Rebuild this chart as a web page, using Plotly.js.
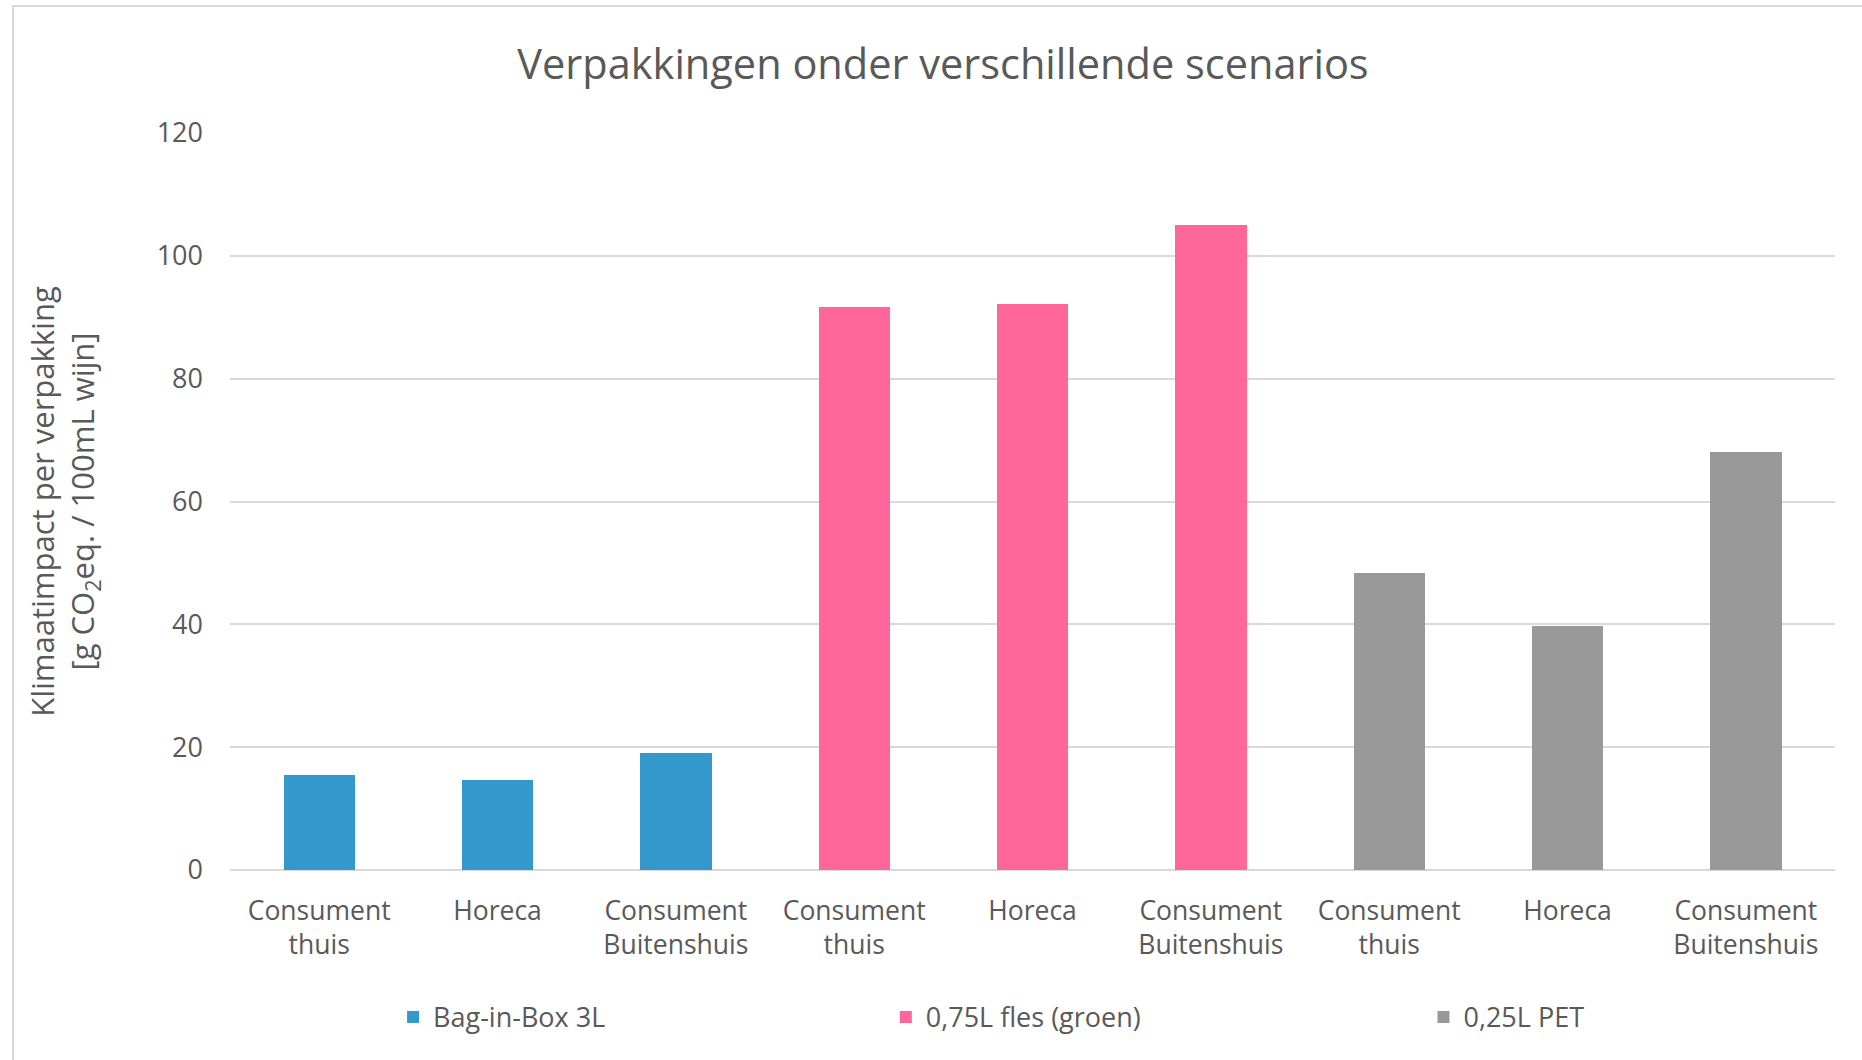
<!DOCTYPE html>
<html>
<head>
<meta charset="utf-8">
<script src="https://cdn.plot.ly/plotly-3.0.1.min.js"></script>
<style>
  html, body { margin: 0; padding: 0; background: #ffffff; overflow: hidden; }
  #frame { position: absolute; left: 12px; top: 5px; width: 1900px; height: 1100px; border: 2px solid #d9d9d9; box-sizing: border-box; }
  #chart { position: absolute; left: 0; top: 0; width: 1862px; height: 1060px; }
</style>
</head>
<body>
<div id="frame"></div>
<div id="chart"></div>
<script>
// Data
const tickLabels = ["Consument<br>thuis", "Horeca", "Consument<br>Buitenshuis",
                    "Consument<br>thuis", "Horeca", "Consument<br>Buitenshuis",
                    "Consument<br>thuis", "Horeca", "Consument<br>Buitenshuis"];
const seriesNames = ["Bag-in-Box 3L", "0,75L fles (groen)", "0,25L PET"];
const bagInBoxPos = [0, 1, 2];
const bagInBoxValues = [15.5, 14.7, 19.0];
const flesPos = [3, 4, 5];
const flesValues = [91.6, 92.1, 105.1];
const petPos = [6, 7, 8];
const petValues = [48.4, 39.8, 68.0];
const colors = ["#3399cc", "#ff6699", "#999999"];

const font = "'Open Sans', 'Noto Sans', sans-serif";
const textColor = "#595959";

function barTrace(x, y, name, color, legendId) {
  return {
    type: "bar", x: x, y: y, name: name, width: 0.4,
    marker: { color: color, line: { width: 0 } },
    legend: legendId,
    hoverinfo: "y+name"
  };
}

const data = [
  barTrace(bagInBoxPos, bagInBoxValues, seriesNames[0], colors[0], "legend"),
  barTrace(flesPos, flesValues, seriesNames[1], colors[1], "legend2"),
  barTrace(petPos, petValues, seriesNames[2], colors[2], "legend3")
];

function legendAt(x) {
  return {
    orientation: "h",
    x: x, xanchor: "left",
    y: -0.2, yanchor: "middle",
    font: { family: font, size: 27, color: textColor },
    itemwidth: 30,
    bgcolor: "rgba(0,0,0,0)"
  };
}

const layout = {
  width: 1862, height: 1060,
  paper_bgcolor: "rgba(0,0,0,0)", plot_bgcolor: "rgba(0,0,0,0)",
  margin: { l: 230, r: 27, t: 133, b: 190 },
  font: { family: font, color: textColor, size: 26 },
  title: {
    text: "Verpakkingen onder verschillende scenarios",
    font: { family: font, size: 41.5, color: textColor },
    x: 943 / 1862, xanchor: "center", y: 1 - 64 / 1060, yanchor: "middle", yref: "container"
  },
  barmode: "overlay",
  bargap: 0,
  xaxis: {
    range: [-0.5, 8.5],
    tickmode: "array",
    tickvals: [0, 1, 2, 3, 4, 5, 6, 7, 8],
    ticktext: tickLabels,
    showgrid: false, zeroline: false, showline: false,
    ticks: "", ticklen: 0,
    ticklabelstandoff: 22,
    tickfont: { family: font, size: 26.5, color: textColor },
    fixedrange: true
  },
  yaxis: {
    range: [0, 120],
    tick0: 0, dtick: 20,
    showgrid: true, gridcolor: "#d9d9d9", gridwidth: 2,
    zeroline: true, zerolinecolor: "#d9d9d9", zerolinewidth: 2,
    showline: false, ticks: "",
    ticklabelstandoff: 26,
    tickfont: { family: font, size: 27, color: textColor },
    title: {
      text: "Klimaatimpact per verpakking<br>[g CO<sub>2</sub>eq. / 100mL wijn]",
      font: { family: font, size: 31, color: textColor },
      standoff: 52
    },
    fixedrange: true
  },
  showlegend: true,
  legend: legendAt(0.1016),
  legend2: legendAt(0.4086),
  legend3: legendAt(0.7436)
};

Plotly.newPlot("chart", data, layout, { staticPlot: true, displayModeBar: false });
</script>
</body>
</html>
